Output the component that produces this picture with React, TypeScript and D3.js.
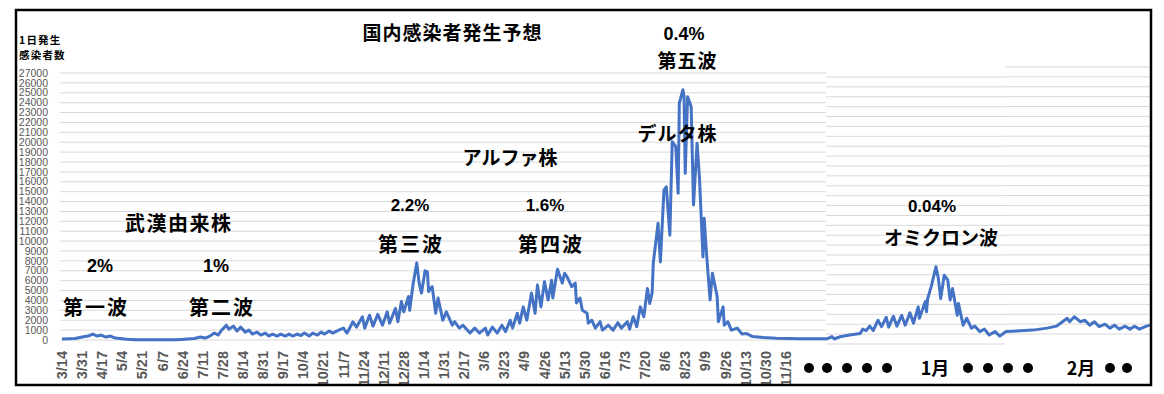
import React, { useEffect, useRef } from 'react';
import * as d3 from 'd3';

// x = days counted from 3/14 (2020), y = daily new cases
const xTickLabels = ['3/14', '3/31', '4/17', '5/4', '5/21', '6/7', '6/24', '7/11', '7/28', '8/14', '8/31', '9/17', '10/4', '10/21', '11/7', '11/24', '12/11', '12/28', '1/14', '1/31', '2/17', '3/6', '3/23', '4/9', '4/26', '5/13', '5/30', '6/16', '7/3', '7/20', '8/6', '8/23', '9/9', '9/26', '10/13', '10/30', '11/16'];
const tickStepDays = 17;
const yMax = 27000;
const yStep = 1000;

const wave1 = [[0, 100], [11, 150], [17, 300], [22, 400], [26, 600], [30, 400], [33, 500], [37, 300], [41, 400], [45, 200], [49, 150], [55, 70], [62, 30], [96, 30]];
const wave2 = [[101, 60], [112, 150], [117, 300], [121, 200], [125, 400], [129, 700], [132, 500], [135, 1000], [139, 1500], [141, 1100], [145, 1400], [148, 900], [151, 1300], [155, 800], [158, 1000], [161, 600], [165, 800], [168, 500], [172, 700], [175, 400], [178, 600], [182, 400], [185, 600], [189, 400], [192, 600], [195, 400], [199, 600], [202, 450], [205, 700], [209, 400], [212, 700], [216, 500], [219, 800], [222, 600], [226, 900]];
const wave3 = [[229, 700], [234, 1000], [238, 1200], [241, 700], [246, 1850], [249, 1300], [254, 2350], [256, 1200], [260, 2500], [263, 1400], [267, 2600], [271, 1500], [275, 2850], [277, 1700], [282, 3200], [284, 1850], [287, 3900], [289, 2850], [293, 4400], [294, 3000], [297, 5750], [300, 7800], [302, 5750], [304, 4750], [307, 7000], [309, 6900], [310, 4900], [313, 5400], [316, 2700], [318, 4250], [322, 2000], [325, 2850], [330, 1500], [332, 1850], [336, 1200], [339, 1500], [345, 700], [349, 1200], [353, 700], [358, 1200], [360, 500]];
const wave4 = [[364, 1300], [368, 700], [372, 1500], [375, 850], [379, 2000], [381, 1200], [385, 2700], [387, 1700], [390, 3350], [393, 2000], [397, 4750], [400, 2700], [402, 5550], [405, 3350], [408, 5900], [411, 4050], [414, 6050], [415, 4250], [419, 7150], [423, 5750], [425, 6750], [427, 6400], [431, 5400], [434, 5750], [435, 3750], [438, 4250], [440, 3000], [444, 2700], [445, 1700], [448, 2000], [451, 1200], [455, 1850], [457, 1000]];
const wave5 = [[462, 1500], [466, 1000], [470, 1750], [473, 1200], [478, 1850], [480, 1100], [483, 2350], [486, 1350], [489, 3350], [492, 2350], [495, 5200], [497, 3700], [499, 4750], [500, 7800], [504, 11800], [506, 7900], [509, 15150], [511, 15500], [514, 10600], [516, 20050], [519, 19550], [521, 14850], [522, 23950], [525, 25300], [526, 24600], [527, 16850], [529, 24600], [532, 23600], [534, 13650], [537, 19900], [539, 16500], [542, 8400], [543, 12300], [545, 8750], [548, 4050], [550, 6750], [554, 4400], [555, 1850], [559, 3350], [560, 1500], [563, 1850], [566, 1000], [571, 1200], [575, 600], [579, 650], [584, 350], [593, 250], [604, 170], [624, 120], [641, 120]];
const omicron = [[647, 120], [651, 350], [653, 100], [658, 330], [666, 500], [675, 650], [677, 1100], [680, 950], [683, 1400], [686, 950], [690, 2000], [693, 1350], [697, 2300], [699, 1300], [703, 2400], [706, 1400], [710, 2500], [713, 1500], [717, 2750], [720, 1700], [724, 3350], [725, 2200], [730, 3900], [731, 2850], [732, 4200], [735, 5400], [739, 7400], [741, 6250], [743, 4200], [746, 6550], [749, 6050], [751, 4050], [753, 5200], [757, 2500], [758, 3700], [762, 1500], [765, 2200], [769, 1200], [772, 1400], [776, 850], [780, 1100], [784, 500], [789, 850], [793, 400], [796, 650], [798, 850]];
const forecast = [[821, 1000], [833, 1200], [841, 1400], [846, 1850], [850, 2200], [852, 1850], [856, 2350], [861, 1850], [865, 2000], [869, 1500], [873, 1850], [877, 1350], [882, 1600], [886, 1200], [890, 1500], [894, 1100], [899, 1400], [903, 1100], [907, 1400], [911, 1100], [917, 1400], [920, 1500]];

// annotations: [text, x, y, size, spacing, kind]
const labels = [
  ['国内感染者発生予想', 452, 31, 19, 1, 'jp'],
  ['武漢由来株', 178, 222, 20, 1.5, 'jp'],
  ['2%', 100, 266, 18, 0, 'num'],
  ['1%', 216, 266, 18, 0, 'num'],
  ['第一波', 95, 306, 20, 2, 'jp'],
  ['第二波', 221, 306, 20, 2, 'jp'],
  ['2.2%', 410, 205, 17, 0, 'num'],
  ['第三波', 410, 243, 20, 2, 'jp'],
  ['1.6%', 545, 205, 17, 0, 'num'],
  ['第四波', 550, 243, 20, 2, 'jp'],
  ['アルファ株', 510, 156, 19, 0, 'jp'],
  ['0.4%', 684, 34, 18, 0, 'num'],
  ['第五波', 687, 59, 19, 1, 'jp'],
  ['デルタ株', 677, 132, 19, 1, 'jp'],
  ['0.04%', 932, 206, 17, 0, 'num'],
  ['オミクロン波', 941, 236, 19, 0, 'jp'],
];
const monthLabels = [['1月', 935], ['2月', 1081]];
const dotXs = [809, 827, 847, 867, 887, 968, 988, 1008, 1028, 1110, 1127];

const W = 1164;
const H = 394;
const jpFont = "'Noto Sans CJK JP', sans-serif";
const numFont = "'Liberation Sans', Arial, sans-serif";

const App = () => {
  const ref = useRef(null);

  useEffect(() => {
    const svg = d3.select(ref.current);
    svg.selectAll('*').remove();

    const x = d3.scaleLinear().domain([0, 920]).range([62, 1150]);
    const y = d3.scaleLinear().domain([0, yMax]).range([340, 73]);
    const yTicks = d3.range(0, yMax + 1, yStep);

    // grid lines; the pasted forecast panels sit a few px off
    const gridParts = [[60, 826, 0], [826, 1005, 4], [1005, 1150, -6]];
    gridParts.forEach(([x0, x1, off]) => {
      svg.append('g')
        .selectAll('line')
        .data(yTicks)
        .join('line')
        .attr('x1', x0)
        .attr('x2', x1)
        .attr('y1', d => y(d) + off)
        .attr('y2', d => y(d) + off)
        .attr('stroke', '#d9d9d9')
        .attr('stroke-width', 1);
    });

    // y labels
    svg.append('g')
      .selectAll('text')
      .data(yTicks)
      .join('text')
      .attr('x', 48)
      .attr('y', d => y(d))
      .attr('dy', '0.35em')
      .attr('text-anchor', 'end')
      .attr('font-family', numFont)
      .attr('font-size', 10.5)
      .attr('fill', '#595959')
      .text(d => d);

    svg.append('text')
      .attr('x', 19).attr('y', 39)
      .attr('dominant-baseline', 'central')
      .attr('font-family', jpFont).attr('font-weight', 700)
      .attr('font-size', 10.5).attr('letter-spacing', 1.2)
      .text('1日発生');
    svg.append('text')
      .attr('x', 19).attr('y', 54)
      .attr('dominant-baseline', 'central')
      .attr('font-family', jpFont).attr('font-weight', 700)
      .attr('font-size', 10.5).attr('letter-spacing', 1.2)
      .text('感染者数');

    // x tick labels, rotated
    const clip = svg.append('clipPath').attr('id', 'xclip');
    clip.append('rect').attr('x', 0).attr('y', 0).attr('width', W).attr('height', 385);
    svg.append('g')
      .attr('clip-path', 'url(#xclip)')
      .selectAll('text')
      .data(xTickLabels)
      .join('text')
      .attr('transform', (d, i) => `translate(${x(i * tickStepDays)},351) rotate(-90)`)
      .attr('text-anchor', 'end')
      .attr('dy', '0.35em')
      .attr('font-family', numFont)
      .attr('font-weight', 700)
      .attr('font-size', 14.5)
      .attr('fill', '#595959')
      .text(d => d);

    // the series
    const data = [...wave1, ...wave2, ...wave3, ...wave4, ...wave5, ...omicron, ...forecast];
    const line = d3.line()
      .x(d => x(d[0]))
      .y(d => y(d[1]));
    svg.append('path')
      .datum(data)
      .attr('d', line)
      .attr('fill', 'none')
      .attr('stroke', '#4472c4')
      .attr('stroke-width', 3)
      .attr('stroke-linejoin', 'round');

    // annotations
    svg.append('g')
      .selectAll('text')
      .data(labels)
      .join('text')
      .attr('x', d => d[1] + d[4] / 2)
      .attr('y', d => d[2])
      .attr('text-anchor', 'middle')
      .attr('dominant-baseline', 'central')
      .attr('font-family', d => (d[5] === 'jp' ? jpFont : numFont))
      .attr('font-weight', 700)
      .attr('font-size', d => d[3])
      .attr('letter-spacing', d => d[4])
      .attr('fill', '#000')
      .text(d => d[0]);

    svg.append('g')
      .selectAll('circle')
      .data(dotXs)
      .join('circle')
      .attr('cx', d => d)
      .attr('cy', 368)
      .attr('r', 5)
      .attr('fill', '#000');

    svg.append('g')
      .selectAll('text')
      .data(monthLabels)
      .join('text')
      .attr('x', d => d[1])
      .attr('y', 367)
      .attr('text-anchor', 'middle')
      .attr('dominant-baseline', 'central')
      .attr('font-family', jpFont)
      .attr('font-weight', 700)
      .attr('font-size', 18)
      .text(d => d[0]);

    // frame
    svg.append('rect')
      .attr('x', 16).attr('y', 10)
      .attr('width', 1135).attr('height', 375)
      .attr('fill', 'none')
      .attr('stroke', '#000')
      .attr('stroke-width', 2.5);
  }, []);

  return (
    <>
      <style>{'body{margin:0;background:#fff}'}</style>
      <svg ref={ref} width={W} height={H} style={{ display: 'block', background: '#fff' }} />
    </>
  );
};

export default App;
